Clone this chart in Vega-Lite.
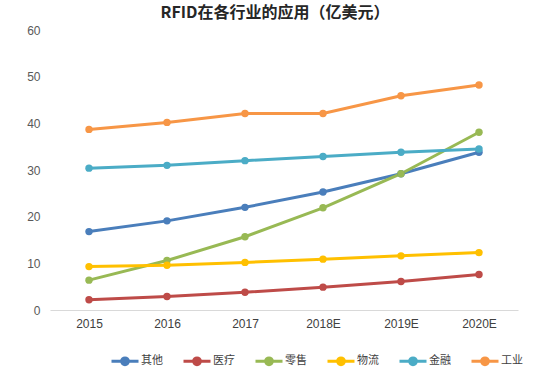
{
  "$schema": "https://vega.github.io/schema/vega-lite/v6.json",
  "width": 468,
  "height": 280,
  "autosize": "none",
  "padding": {"left": 50, "top": 30, "right": 42, "bottom": 59},
  "background": "white",
  "title": {
    "text": "RFID在各行业的应用（亿美元）",
    "font": "Noto Sans CJK SC",
    "fontSize": 16,
    "fontWeight": "bold",
    "color": "#262626",
    "anchor": "middle",
    "dx": -9,
    "offset": 3
  },
  "config": {
    "view": {"stroke": null},
    "font": "Noto Sans CJK SC"
  },
  "data": {
    "values": [
      {"year": "2015", "cat": "其他", "v": 16.8},
      {"year": "2016", "cat": "其他", "v": 19.1},
      {"year": "2017", "cat": "其他", "v": 22.0},
      {"year": "2018E", "cat": "其他", "v": 25.3},
      {"year": "2019E", "cat": "其他", "v": 29.2},
      {"year": "2020E", "cat": "其他", "v": 33.8},
      {"year": "2015", "cat": "医疗", "v": 2.2},
      {"year": "2016", "cat": "医疗", "v": 2.9},
      {"year": "2017", "cat": "医疗", "v": 3.8},
      {"year": "2018E", "cat": "医疗", "v": 4.9},
      {"year": "2019E", "cat": "医疗", "v": 6.1},
      {"year": "2020E", "cat": "医疗", "v": 7.6},
      {"year": "2015", "cat": "零售", "v": 6.4},
      {"year": "2016", "cat": "零售", "v": 10.6},
      {"year": "2017", "cat": "零售", "v": 15.7},
      {"year": "2018E", "cat": "零售", "v": 21.9},
      {"year": "2019E", "cat": "零售", "v": 29.2},
      {"year": "2020E", "cat": "零售", "v": 38.1},
      {"year": "2015", "cat": "物流", "v": 9.3},
      {"year": "2016", "cat": "物流", "v": 9.6},
      {"year": "2017", "cat": "物流", "v": 10.2},
      {"year": "2018E", "cat": "物流", "v": 10.9},
      {"year": "2019E", "cat": "物流", "v": 11.6},
      {"year": "2020E", "cat": "物流", "v": 12.3},
      {"year": "2015", "cat": "金融", "v": 30.4},
      {"year": "2016", "cat": "金融", "v": 31.0},
      {"year": "2017", "cat": "金融", "v": 32.0},
      {"year": "2018E", "cat": "金融", "v": 32.9},
      {"year": "2019E", "cat": "金融", "v": 33.8},
      {"year": "2020E", "cat": "金融", "v": 34.5},
      {"year": "2015", "cat": "工业", "v": 38.7},
      {"year": "2016", "cat": "工业", "v": 40.2},
      {"year": "2017", "cat": "工业", "v": 42.1},
      {"year": "2018E", "cat": "工业", "v": 42.1},
      {"year": "2019E", "cat": "工业", "v": 45.9},
      {"year": "2020E", "cat": "工业", "v": 48.2}
    ]
  },
  "encoding": {
    "x": {
      "field": "year",
      "type": "ordinal",
      "sort": null,
      "scale": {"type": "point", "padding": 0.5},
      "axis": {
        "title": null,
        "labelAngle": 0,
        "labelFont": "Liberation Sans",
        "labelFontSize": 12,
        "labelColor": "#404040",
        "labelPadding": 8,
        "ticks": false,
        "domainColor": "#d9d9d9",
        "domainWidth": 1
      }
    },
    "y": {
      "field": "v",
      "type": "quantitative",
      "scale": {"domain": [0, 60], "nice": false},
      "axis": {
        "title": null,
        "values": [0, 10, 20, 30, 40, 50, 60],
        "grid": false,
        "domain": false,
        "ticks": false,
        "labelFont": "Liberation Sans",
        "labelFontSize": 12,
        "labelColor": "#595959",
        "labelPadding": 10
      }
    },
    "color": {
      "field": "cat",
      "type": "nominal",
      "scale": {
        "domain": ["其他", "医疗", "零售", "物流", "金融", "工业"],
        "range": ["#4a7ebb", "#be4b48", "#98b954", "#ffc000", "#4bacc6", "#f79646"]
      },
      "legend": {
        "title": null,
        "orient": "none",
        "legendX": 60,
        "legendY": 316,
        "direction": "horizontal",
        "padding": 0,
        "symbolType": "M-1,0L1,0M-0.25,0a0.25,0.25 0 1,0 0.5,0a0.25,0.25 0 1,0 -0.5,0",
        "symbolSize": 729,
        "symbolStrokeWidth": 3,
        "labelFontSize": 11,
        "labelOffset": 1,
        "labelColor": "#404040",
        "columnPadding": 14,
        "symbolOffset": 0
      }
    }
  },
  "layer": [
    {"mark": {"type": "line", "strokeWidth": 3}},
    {"mark": {"type": "point", "filled": true, "size": 55, "opacity": 1}}
  ]
}
